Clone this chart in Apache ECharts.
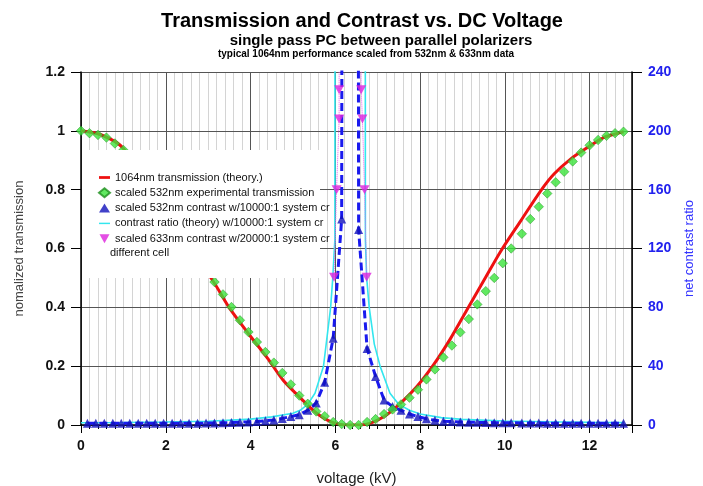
<!DOCTYPE html>
<html>
<head>
<meta charset="utf-8">
<script src="https://cdn.jsdelivr.net/npm/echarts@6/dist/echarts.min.js"></script>
<style>html,body{margin:0;padding:0;background:#fff}#c{width:703px;height:486px}</style>
</head>
<body>
<div id="c"></div>
<script>
// ---- data ----
const titleText = 'Transmission and Contrast vs. DC Voltage';
const subtitleText = 'single pass PC between parallel polarizers';
const noteText = 'typical 1064nm performance scaled from 532nm & 633nm data';

const seriesNames = [
  '1064nm transmission (theory.)',
  'scaled 532nm experimental transmission',
  'scaled 532nm contrast w/10000:1 system cr',
  'contrast ratio (theory) w/10000:1 system cr',
  'scaled 633nm contrast w/20000:1 system cr'
];
const legendExtraLine = 'different cell';

// 1064nm theory transmission (red line)
const redVoltage = [0, 0.5, 1.0, 3.13, 3.5, 3.98, 4.39, 4.77, 5.17, 5.56, 5.95, 6.35, 6.74, 7.14, 7.53, 7.92, 8.32, 8.71, 9.1, 9.5, 9.9, 10.38, 10.85, 11.16, 11.55, 11.95, 12.33, 12.73, 12.8];
const redTrans   = [1.0, 0.985, 0.94, 0.486, 0.398, 0.305, 0.229, 0.152, 0.093, 0.04, 0.008, 0, 0.003, 0.028, 0.073, 0.13, 0.205, 0.292, 0.39, 0.49, 0.59, 0.695, 0.797, 0.853, 0.904, 0.943, 0.977, 0.994, 0.997];

// 532nm experimental transmission (green diamonds)
const greenVoltage = [0, 0.2, 0.4, 0.6, 0.8, 1.0,
  3.15, 3.35, 3.55, 3.75, 3.95, 4.15, 4.35, 4.55, 4.75, 4.95, 5.15, 5.35, 5.55, 5.75, 5.95, 6.15, 6.35, 6.55, 6.75, 6.95,
  7.15, 7.35, 7.55, 7.75, 7.95, 8.15, 8.35, 8.55, 8.75, 8.95, 9.15, 9.35, 9.55, 9.75, 9.95, 10.15,
  10.4, 10.6, 10.8, 11.0, 11.2, 11.4, 11.6, 11.8, 12.0, 12.2, 12.4, 12.6, 12.8];
const greenTrans = [1.0, 0.992, 0.986, 0.977, 0.957, 0.935,
  0.486, 0.444, 0.401, 0.356, 0.316, 0.282, 0.248, 0.212, 0.177, 0.138, 0.1, 0.072, 0.046, 0.03, 0.01, 0.003, 0, 0, 0.01, 0.02,
  0.037, 0.053, 0.07, 0.093, 0.12, 0.155, 0.189, 0.23, 0.27, 0.315, 0.36, 0.41, 0.455, 0.5, 0.55, 0.6,
  0.65, 0.7, 0.742, 0.787, 0.825, 0.861, 0.896, 0.926, 0.951, 0.969, 0.983, 0.992, 0.997];

// 532nm contrast (blue triangles + dashed line)
const blueVoltage = [0.15, 0.35, 0.55, 0.75, 0.95, 1.15, 1.35, 1.55, 1.75, 1.95, 2.15, 2.35, 2.55, 2.75, 2.95,
  3.15, 3.35, 3.55, 3.75, 3.95, 4.15, 4.35, 4.55, 4.75, 4.95, 5.15, 5.35, 5.55, 5.75, 5.95, 6.15, 6.35, 6.55, 6.75, 6.95,
  7.15, 7.35, 7.55, 7.75, 7.95, 8.15, 8.35, 8.55, 8.75, 8.95, 9.15, 9.35, 9.55, 9.75, 9.95, 10.15,
  10.4, 10.6, 10.8, 11.0, 11.2, 11.4, 11.6, 11.8, 12.0, 12.2, 12.4, 12.6, 12.8];
const blueContrast = [1.2, 1.2, 1.2, 1.2, 1.2, 1.2, 1.2, 1.2, 1.2, 1.2, 1.2, 1.2, 1.2, 1.2, 1.3,
  1.4, 1.5, 1.7, 1.9, 2.1, 2.4, 2.9, 3.4, 4.5, 5.7, 7, 10, 15, 29, 59, 140, 5000, 133, 52, 33,
  17, 12.5, 10, 7.5, 5.7, 4.2, 3.2, 2.6, 2.3, 2.1, 1.9, 1.8, 1.7, 1.6, 1.5, 1.5,
  1.4, 1.3, 1.3, 1.2, 1.2, 1.2, 1.2, 1.2, 1.2, 1.2, 1.2, 1.2, 1.2];

// theory contrast (cyan line)
const cyanVoltage  = [0, 1, 2, 3, 4, 4.5, 5, 5.17, 5.35, 5.52, 5.72, 5.89, 5.94, 5.99, 6.36, 6.71, 6.74, 6.8, 6.92, 7.06, 7.29, 7.5, 7.75, 8, 8.5, 9, 10, 11, 12, 12.8];
const cyanContrast = [1.5, 1.7, 2, 2.5, 4, 5.5, 8, 10, 14, 21.6, 39.7, 80, 100, 126, 20000, 126, 100, 80, 55, 39.7, 21.6, 14, 10, 7.5, 5, 3.8, 2.7, 2.2, 1.8, 1.6];

// 633nm contrast (magenta inverted triangles + dotted line)
const magentaVoltage  = [5.97, 6.03, 6.09, 6.09, 6.61, 6.64, 6.69, 6.74];
const magentaContrast = [100.5, 160, 208, 228, 228, 208, 160, 100.5];
const magentaLineVoltage  = [5.97, 6.03, 6.09, 6.09, 6.35, 6.61, 6.64, 6.69, 6.74];
const magentaLineContrast = [100.5, 160, 208, 228, 5000, 228, 208, 160, 100.5];

// axes
const xRange = [0, 13], xMajor = 2, xMinor = 0.2;
const yLeftRange = [0, 1.2], yLeftStep = 0.2;
const yRightRange = [0, 240], yRightStep = 40;

const zip = (a, b) => a.map((v, i) => [v, b[i]]);
const FF = '"Liberation Sans", Arial, sans-serif';

const chart = echarts.init(document.getElementById('c'), null, {renderer: 'canvas'});
chart.setOption({
  animation: false,
  backgroundColor: '#fff',
  textStyle: {fontFamily: FF},
  grid: {left: 81, right: 71, top: 72, bottom: 61, containLabel: false, outerBoundsMode: 'none'},
  graphic: [
    {type: 'text', x: 362, y: 21, z: 10, style: {text: titleText, font: 'bold 20px ' + FF, fill: '#000', align: 'center', verticalAlign: 'middle'}},
    {type: 'text', x: 381, y: 41, z: 10, style: {text: subtitleText, font: 'bold 15px ' + FF, fill: '#000', align: 'center', verticalAlign: 'middle'}},
    {type: 'text', x: 366, y: 54, z: 10, style: {text: noteText, font: 'bold 10px ' + FF, fill: '#000', align: 'center', verticalAlign: 'middle'}},
    {type: 'rect', z: 5, shape: {x: 82, y: 150, width: 238, height: 128}, style: {fill: '#fff'}},
    {type: 'text', x: 110, y: 253, z: 10, style: {text: legendExtraLine, font: '11px ' + FF, fill: '#111', align: 'left', verticalAlign: 'middle'}}
  ],
  legend: {
    orient: 'vertical', left: 93, top: 167, z: 8,
    itemWidth: 11, itemHeight: 9, itemGap: 4.3,
    selectedMode: false,
    textStyle: {fontSize: 11, color: '#111', fontFamily: FF},
    data: [
      {name: seriesNames[0], icon: 'path://M0,0 H12 V3 H0 Z'},
      {name: seriesNames[1], icon: 'diamond'},
      {name: seriesNames[2], icon: 'triangle'},
      {name: seriesNames[3], icon: 'path://M0,0 H12 V1.6 H0 Z'},
      {name: seriesNames[4], icon: 'path://M0,0 L10,0 L5,9 Z'}
    ]
  },
  xAxis: [
    {
      type: 'value', min: xRange[0], max: xRange[1], interval: xMinor, position: 'bottom', z: 0,
      axisLine: {show: false, onZero: false},
      axisTick: {show: true, length: 4, lineStyle: {color: '#000'}},
      axisLabel: {show: false},
      splitLine: {show: true, lineStyle: {color: '#d4d4d4', width: 1}}
    },
    {
      type: 'value', min: xRange[0], max: xRange[1], interval: xMajor, position: 'bottom', z: 2,
      axisLine: {show: true, onZero: false, lineStyle: {color: '#000', width: 1.5}},
      axisTick: {show: true, length: 8, lineStyle: {color: '#000'}},
      axisLabel: {fontSize: 14, fontWeight: 'bold', color: '#111', margin: 14,
        formatter: v => (Math.abs(v % xMajor) < 1e-6 ? String(v) : '')},
      splitLine: {show: true, lineStyle: {color: '#555', width: 1}},
      name: 'voltage (kV)', nameLocation: 'middle', nameGap: 46,
      nameTextStyle: {fontSize: 15, color: '#222'}
    }
  ],
  yAxis: [
    {
      type: 'value', min: yLeftRange[0], max: yLeftRange[1], interval: yLeftStep, position: 'left', z: 2,
      axisLine: {show: true, onZero: false, lineStyle: {color: '#000', width: 1.5}},
      axisTick: {show: true, length: 10, lineStyle: {color: '#000'}},
      axisLabel: {fontSize: 14, fontWeight: 'bold', color: '#111', margin: 16},
      splitLine: {show: true, lineStyle: {color: '#555', width: 1}},
      name: 'nomalized transmission', nameLocation: 'middle', nameGap: 55,
      nameTextStyle: {fontSize: 13, color: '#444'}
    },
    {
      type: 'value', min: yRightRange[0], max: yRightRange[1], interval: yRightStep, position: 'right', z: 2,
      axisLine: {show: true, onZero: false, lineStyle: {color: '#000', width: 1.5}},
      axisTick: {show: true, length: 10, lineStyle: {color: '#000'}},
      axisLabel: {fontSize: 14, fontWeight: 'bold', color: '#2222ee', margin: 16},
      splitLine: {show: false},
      name: 'net contrast ratio', nameLocation: 'middle', nameGap: 51,
      nameTextStyle: {fontSize: 13, color: '#3333ff'}
    }
  ],
  series: [
    {
      name: seriesNames[0], type: 'line', xAxisIndex: 1, yAxisIndex: 0, z: 2,
      data: zip(redVoltage, redTrans), symbol: 'none', smooth: 0.3,
      lineStyle: {color: '#ee1111', width: 3}, itemStyle: {color: '#ee1111'}
    },
    {
      name: seriesNames[3], type: 'line', xAxisIndex: 1, yAxisIndex: 1, z: 2,
      data: zip(cyanVoltage, cyanContrast), symbol: 'none', smooth: false,
      lineStyle: {color: '#33e6ee', width: 1.6}, itemStyle: {color: '#33e6ee'}
    },
    {
      name: 'blue-dash', type: 'line', xAxisIndex: 1, yAxisIndex: 1, z: 2,
      data: zip(blueVoltage, blueContrast), symbol: 'none',
      lineStyle: {color: '#1a1aee', width: 3, type: [8, 4]}
    },
    {
      name: seriesNames[2], type: 'scatter', xAxisIndex: 1, yAxisIndex: 1, z: 3,
      data: zip(blueVoltage, blueContrast), symbol: 'triangle', symbolSize: [9, 9],
      itemStyle: {color: '#1111bb'}
    },
    {
      name: 'magenta-dot', type: 'line', xAxisIndex: 1, yAxisIndex: 1, z: 3,
      data: zip(magentaLineVoltage, magentaLineContrast), symbol: 'none',
      lineStyle: {color: '#ee55ee', width: 1, type: 'dotted'}
    },
    {
      name: seriesNames[4], type: 'scatter', xAxisIndex: 1, yAxisIndex: 1, z: 4,
      data: zip(magentaVoltage, magentaContrast), symbol: 'triangle', symbolRotate: 180, symbolSize: [10, 9],
      itemStyle: {color: '#dd22dd'}
    },
    {
      name: seriesNames[1], type: 'scatter', xAxisIndex: 1, yAxisIndex: 0, z: 4,
      data: zip(greenVoltage, greenTrans), symbol: 'diamond', symbolSize: [9.5, 9.5],
      itemStyle: {color: '#3be33b', borderColor: '#1f8f1f', borderWidth: 0.6}
    }
  ]
});
</script>
</body>
</html>
